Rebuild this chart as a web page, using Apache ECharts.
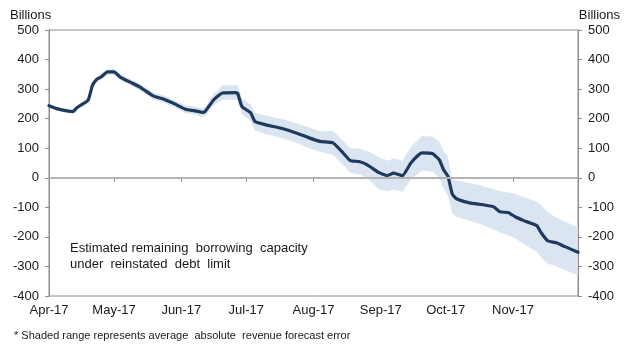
<!DOCTYPE html>
<html>
<head>
<meta charset="utf-8">
<script src="https://cdn.jsdelivr.net/npm/echarts@6/dist/echarts.min.js"></script>
<style>
html,body{margin:0;padding:0;background:#fff;}
#chart{width:630px;height:354px;}
</style>
</head>
<body>
<div id="chart"></div>
<script>
// ---- Data ----
const DATES = [
  '2017-04-01','2017-04-05','2017-04-12','2017-04-14','2017-04-19','2017-04-21','2017-04-23','2017-04-25','2017-04-28',
  '2017-05-01','2017-05-04','2017-05-10','2017-05-14','2017-05-19','2017-05-24','2017-05-29',
  '2017-06-03','2017-06-07','2017-06-11','2017-06-12','2017-06-16','2017-06-20','2017-06-26','2017-06-27','2017-06-29',
  '2017-07-03','2017-07-05','2017-07-10','2017-07-18','2017-07-25','2017-07-30',
  '2017-08-04','2017-08-10','2017-08-14','2017-08-18','2017-08-22','2017-08-26','2017-08-31',
  '2017-09-04','2017-09-07','2017-09-11','2017-09-15','2017-09-20','2017-09-25','2017-09-28','2017-09-30',
  '2017-10-02','2017-10-04','2017-10-06','2017-10-12','2017-10-18','2017-10-23','2017-10-26','2017-10-30',
  '2017-11-02','2017-11-06','2017-11-12','2017-11-14','2017-11-17','2017-11-21','2017-11-25','2017-12-01'
];
const CAPACITY = [
  244,233,224,238,262,312,333,341,358,
  358,340,318,302,277,266,250,
  232,227,221,224,264,287,288,286,241,
  220,190,179,166,149,135,
  123,118,89,58,55,43,18,
  7,16,7,51,84,81,61,27,
  5,-55,-71,-85,-91,-98,-115,-118,
  -132,-145,-162,-186,-213,-220,-233,-252
];
const UPPER = [
  250,239,230,245,269,320,341,350,367,
  367,350,329,313,289,278,262,
  245,241,236,240,284,312,314,312,268,
  248,220,210,198,183,170,
  158,158,130,100,98,90,70,
  58,65,58,105,141,140,122,90,
  70,-5,-8,-18,-28,-38,-45,-50,
  -55,-65,-80,-92,-115,-135,-148,-168
];
const LOWER = [
  238,227,218,231,255,304,325,332,349,
  349,330,307,291,265,254,238,
  219,213,206,208,245,264,264,262,215,
  192,160,148,134,115,100,
  88,78,48,16,12,-2,-38,
  -46,-40,-47,-5,24,20,0,-36,
  -60,-120,-132,-145,-160,-175,-185,-195,
  -205,-225,-250,-270,-290,-300,-312,-330
];
const Y_MIN = -400, Y_MAX = 500, Y_STEP = 100;
const LABEL_MONTHS = ['2017-04-01','2017-05-01','2017-06-01','2017-07-01','2017-08-01','2017-09-01','2017-10-01','2017-11-01'];
const TICK_MONTHS = LABEL_MONTHS.concat(['2017-12-01']);
const MONTH_NAMES = ['Jan','Feb','Mar','Apr','May','Jun','Jul','Aug','Sep','Oct','Nov','Dec'];
const UNIT = 'Billions';
const NOTE = ['Estimated remaining  borrowing  capacity', 'under  reinstated  debt  limit'];
const FOOTNOTE = '* Shaded range represents average  absolute  revenue forecast error';

// ---- Build ----
function toTs(s){ const p = s.split('-'); return Date.UTC(+p[0], +p[1]-1, +p[2]); }
const FONT = "'Liberation Sans', Arial, sans-serif";
const TEXT = '#1a1a1a';
const AXIS = '#8c8c8c';

const chart = echarts.init(document.getElementById('chart'), null, {renderer:'canvas'});

const yAxisBase = {
  type:'value', min:Y_MIN, max:Y_MAX, interval:Y_STEP,
  axisLine:{show:true, lineStyle:{color:AXIS, width:1}},
  axisTick:{show:true, inside:false, length:4, lineStyle:{color:AXIS}},
  splitLine:{show:false},
  axisLabel:{color:TEXT, fontSize:13, fontFamily:FONT, margin:10}
};

chart.setOption({
  animation:false,
  backgroundColor:'#ffffff',
  textStyle:{fontFamily:FONT},
  grid:{left:49, right:52, top:30, bottom:58, show:true, borderColor:AXIS, borderWidth:1, backgroundColor:'transparent'},
  xAxis:{
    type:'value',
    min:toTs(TICK_MONTHS[0]), max:toTs(TICK_MONTHS[TICK_MONTHS.length-1]),
    axisLine:{show:true, lineStyle:{color:AXIS, width:1}},
    axisTick:{show:true, length:4, lineStyle:{color:AXIS}, customValues:TICK_MONTHS.map(toTs)},
    splitLine:{show:false},
    axisLabel:{
      color:TEXT, fontSize:13, fontFamily:FONT, margin:8,
      customValues:LABEL_MONTHS.map(toTs),
      formatter:function(v){ const d = new Date(v); return MONTH_NAMES[d.getUTCMonth()] + '-' + String(d.getUTCFullYear()).slice(2); }
    }
  },
  yAxis:[
    Object.assign({position:'left'}, yAxisBase),
    Object.assign({position:'right'}, yAxisBase)
  ],
  series:[
    {
      name:'error band', type:'custom', z:1, silent:true,
      data:[[toTs(DATES[0]), UPPER[0]]],
      encode:{x:0, y:1},
      renderItem:function(params, api){
        if (params.dataIndex !== 0) return;
        const pts = [];
        for (let i = 0; i < DATES.length; i++) pts.push(api.coord([toTs(DATES[i]), UPPER[i]]));
        for (let i = DATES.length - 1; i >= 0; i--) pts.push(api.coord([toTs(DATES[i]), LOWER[i]]));
        return {type:'polygon', shape:{points:pts}, style:{fill:'#dbe5f1', stroke:null}};
      },
      markLine:{
        silent:true, symbol:['none','none'], label:{show:false},
        lineStyle:{color:'#b3b3b3', width:2, type:'solid'},
        data:[{yAxis:0}]
      }
    },
    {
      name:'capacity', type:'line',
      data:DATES.map((d,i)=>[toTs(d), CAPACITY[i]]),
      symbol:'none', smooth:0.15,
      lineStyle:{color:'#1f3a5c', width:3.2, join:'round', cap:'round'},
      z:3
    }
  ],
  graphic:[
    {type:'text', left:10, top:9, style:{text:UNIT, fill:TEXT, font:'13px '+FONT}},
    {type:'text', right:10, top:9, style:{text:UNIT, fill:TEXT, font:'13px '+FONT}},
    {type:'text', left:70, top:240, style:{text:NOTE.join('\n'), fill:TEXT, font:'13px '+FONT, lineHeight:16}},
    {type:'text', left:14, top:330, style:{text:FOOTNOTE, fill:TEXT, font:'11px '+FONT}}
  ]
});
</script>
</body>
</html>
